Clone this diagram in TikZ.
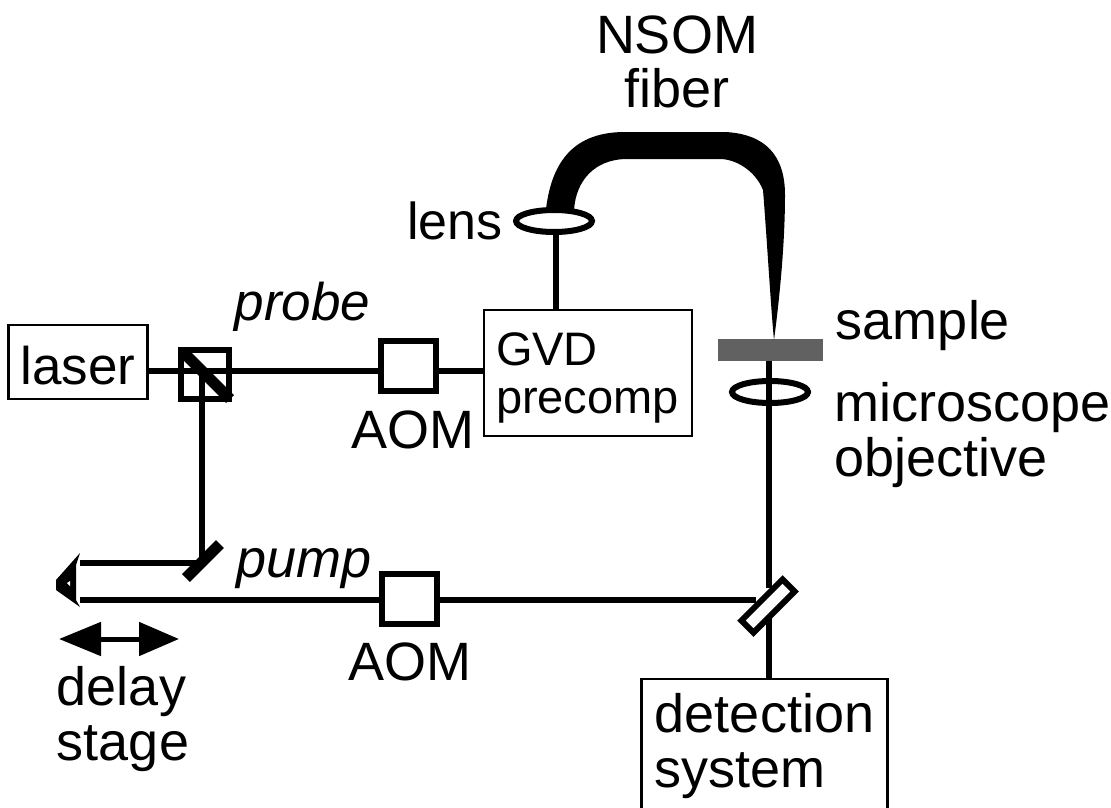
\documentclass[tikz,border=0pt]{standalone}
\usepackage{fontspec}
\setmainfont{Liberation Sans}
\usetikzlibrary{arrows.meta,shapes.geometric}
\begin{document}
\begin{tikzpicture}[x=1pt,y=-1pt,
  every node/.style = {font=\fontsize{54}{55}\selectfont, inner sep=0pt},
  beam/.style = {line width=6pt},
  box/.style = {draw, line width=2.5pt, fill=white},
  opticbox/.style = {draw, line width=6pt, minimum width=55pt, minimum height=50pt},
  lensring/.style = {draw, line width=6pt, shape=ellipse, minimum width=76pt, minimum height=22pt}]
  \useasboundingbox (0,0) rectangle (1111,808);
  \node [box, minimum width=139pt, minimum height=74pt, font=\fontsize{53}{55}\selectfont] (laser) at (78,362) {\rule{0pt}{45pt}laser};
  \node [box, minimum width=208pt, minimum height=126pt, text width=184pt, align=left,
    font=\fontsize{47}{48}\selectfont] (gvd) at (588,373) {\rule{0pt}{42pt}GVD\\precomp};
  \node [box, minimum width=246pt, minimum height=134pt, align=left] (detector) at (764.5,746) {detection\\system};
  \node [opticbox, minimum width=48pt, minimum height=49pt] (cube) at (205,374.5) {};
  \node [opticbox] (aomprobe) at (408,366) {};
  \node [opticbox] (aompump) at (409,599) {};
  \node [lensring] (fiberlens) at (554,221) {};
  \node [lensring] (objective) at (770,392) {};
  \node [draw=none, fill=black!62, minimum width=105pt, minimum height=22pt] (sample) at (770.5,350) {};
  \node [draw, line width=6pt, minimum width=58pt, minimum height=17pt, rotate=45] (splitter) at (768,606) {};
  \coordinate (probeaxis) at (0,371);
  \coordinate (foldmirror) at (202,563);
  \coordinate (retrotop) at (80,563);
  \coordinate (retrobot) at (80,600);
  % beams
  \draw [beam] (laser.east |- probeaxis) -- (aomprobe.west |- probeaxis);
  \draw [beam] (aomprobe.east |- probeaxis) -- (gvd.west |- probeaxis);
  \draw [beam] (fiberlens.south -| 556,0) -- (gvd.north -| 556,0);
  \draw [beam] (202,371) -- (foldmirror);
  \draw [beam] (foldmirror) -- (retrotop);
  \draw [beam] (retrobot) -- (aompump.west |- retrobot);
  \draw [beam] (aompump.east |- retrobot) -- (756,600);
  \draw [beam] (sample.south -| 769,0) -- (769,588);
  \draw [beam] (769,618) -- (detector.north -| 769,0);
  \draw [line width=11pt] (183,352) -- (230,399);
  \draw [line width=11pt] (186,578) -- (220,544);
  \fill (80,553) -- (56,580) -- (56,590) -- (80,607) -- (76,600) -- (76,565) -- cycle;
  \fill [white] (70,581) -- (67,583) -- (70,586) -- cycle;
  % fiber
  \fill (546,209) .. controls (552,160) and (575,132) .. (625,132) -- (725,132)
    .. controls (765,134) and (785,155) .. (785,195) .. controls (785,250) and (778,310) .. (774,340)
    .. controls (771,310) and (767,240) .. (763,190) .. controls (755,170) and (735,159) .. (720,159)
    -- (625,159) .. controls (595,160) and (576,180) .. (574,210) -- cycle;
  \draw [{Triangle[length=42pt,width=33pt]}-{Triangle[length=40pt,width=33pt]}, line width=5pt] (59,639) -- (179,639);
  % labels
  \node (nsom) at (677,35) {NSOM};
  \node (fiber) at (677,88) {fiber};
  \node [font=\fontsize{52}{54}\selectfont] (lens) at (455,221) {lens};
  \node [font=\fontsize{53}{55}\selectfont] (probe) at (302.5,307) {\itshape probe};
  \node (aomone) at (413,430) {AOM};
  \node (pump) at (304,569) {\itshape pump};
  \node (aomtwo) at (410,662) {AOM};
  \node [align=left] (delay) at (123,719) {delay\\stage};
  \node (samplelabel) at (923,326) {sample};
  \node [align=left, anchor=west] (micro) at (834,435) {microscope\\objective};
\end{tikzpicture}
\end{document}
